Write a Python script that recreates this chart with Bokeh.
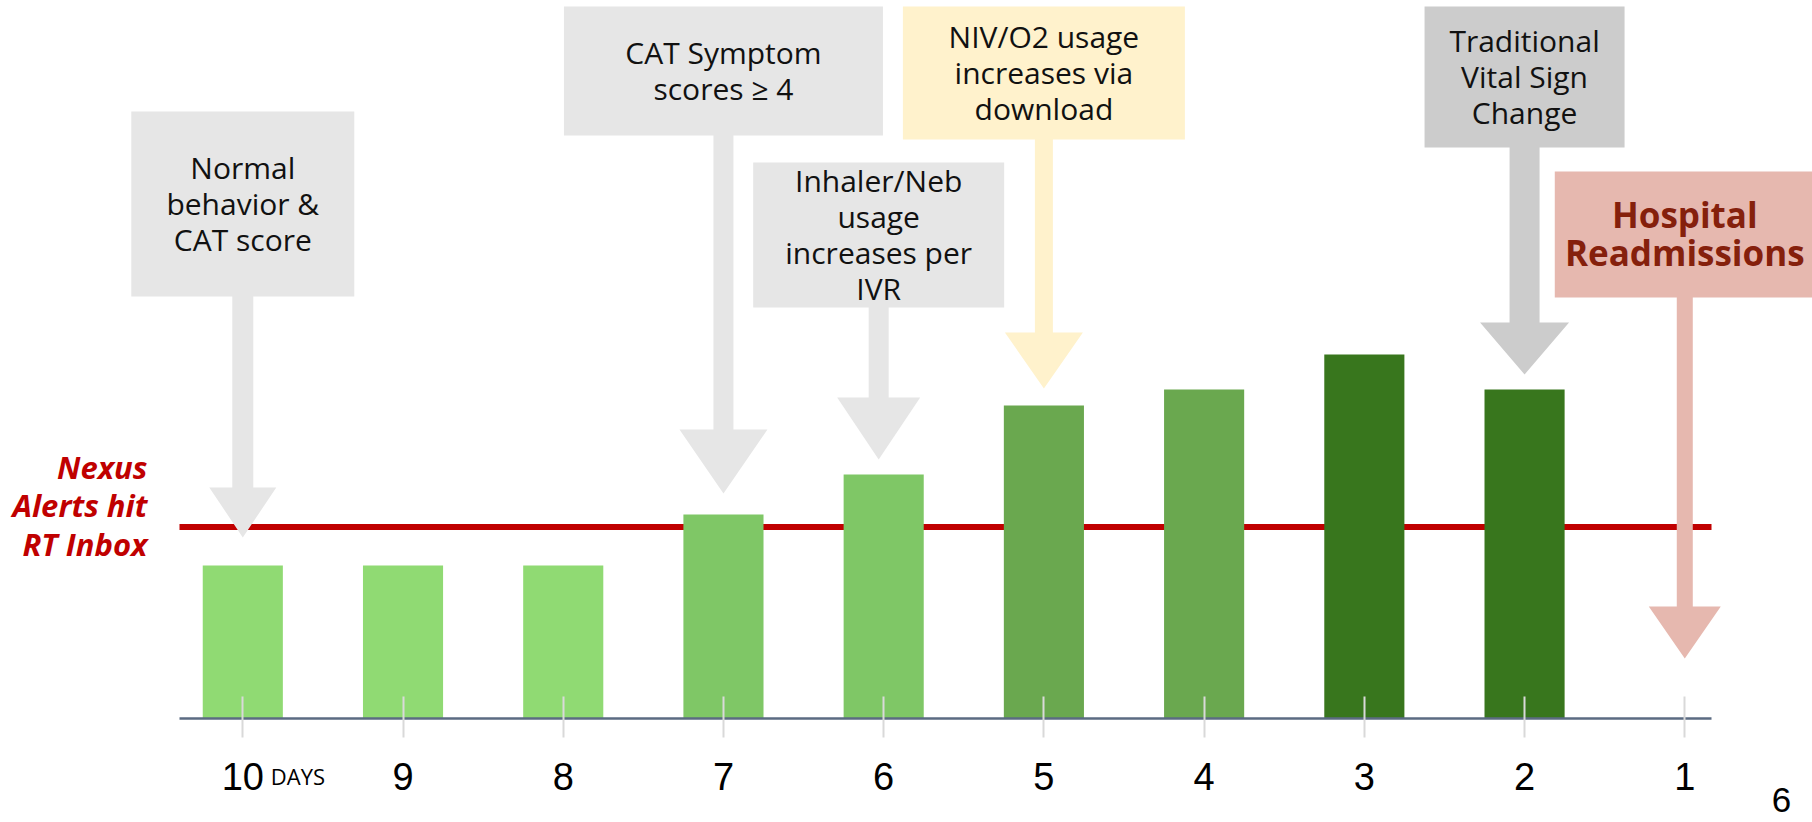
from bokeh.plotting import figure
from bokeh.models import Range1d, LinearAxis, FixedTicker
from bokeh.core.properties import value
from bokeh.embed import file_html
from bokeh.resources import INLINE

# ---------------- data ----------------
days = [10, 9, 8, 7, 6, 5, 4, 3, 2, 1]
tick_labels = ["10", "9", "8", "7", "6", "5", "4", "3", "2", "1"]
bar_days = [10, 9, 8, 7, 6, 5, 4, 3, 2]
bar_values = [3.06, 3.06, 3.06, 4.08, 4.88, 6.26, 6.58, 7.28, 6.58]
alert_threshold = 3.83
callout_days = [10, 7, 6, 5, 2, 1]
callout_texts = [
    ["Normal", "behavior &", "CAT score"],
    ["CAT Symptom", "scores \u2265 4"],
    ["Inhaler/Neb", "usage", "increases per", "IVR"],
    ["NIV/O2 usage", "increases via", "download"],
    ["Traditional", "Vital Sign", "Change"],
    ["Hospital", "Readmissions"],
]
threshold_label = ["Nexus", "Alerts hit", "RT Inbox"]
days_word = "DAYS"
page_number = "6"

# ---------------- styles / layout ----------------
W, H = 1812, 822
X10, PXD = 242.3, 160.22      # pixel of day 10, pixels per day
Y0, PXV = 718.0, 50.0         # pixel of value 0, pixels per unit
TSHIFT = -12                  # text baseline correction (px)


def dx(px):
    return 10 - (px - X10) / PXD


def vy(py):
    return (Y0 - py) / PXV


def px_of(day):
    return X10 + PXD * (10 - day)


bar_colors = ["#90da73", "#90da73", "#90da73", "#7fc766", "#7fc766",
              "#6aa84f", "#6aa84f", "#38761d", "#38761d"]

# width, top, bottom, fill, shaft w, head w, head base, tip, x offset
callout_style = [
    (223, 111, 296, "#e6e6e6", 21, 67, 487, 537, 0),
    (319, 6, 135, "#e6e6e6", 20, 88, 429, 493, 0),
    (251, 162, 307, "#e6e6e6", 20, 83, 397, 459, -5),
    (282, 6, 139, "#fff2cc", 18, 78, 332, 388, 0),
    (200, 6, 147, "#cccccc", 30, 89, 322, 374, 0),
    (260, 171, 297, "#e6b8af", 16, 72, 606, 658, 0),
]

p = figure(width=W, height=H, title=None, output_backend="svg",
           toolbar_location=None, x_axis_location=None, y_axis_location=None,
           x_range=Range1d(dx(0), dx(W)), y_range=Range1d(vy(H), vy(0)),
           min_border=0, min_border_left=0, min_border_right=0,
           min_border_top=0, min_border_bottom=0)
p.outline_line_color = None
p.background_fill_color = "white"
p.border_fill_color = "white"
p.xgrid.visible = False
p.ygrid.visible = False

axis_bounds = (dx(1711), dx(179))

# threshold line
p.segment(x0=[axis_bounds[1]], x1=[axis_bounds[0]], y0=[alert_threshold],
          y1=[alert_threshold], line_color="#c00000", line_width=6)

# bars
p.vbar(x=bar_days, top=bar_values, bottom=0, width=0.5,
       fill_color=bar_colors, line_color=None)

# callout boxes and arrows
box_l, box_r, box_t, box_b, box_c = [], [], [], [], []
arr_xs, arr_ys, arr_c = [], [], []
for day, st in zip(callout_days, callout_style):
    w, top, bot, fill, sw, hw, hb, tip, off = st
    cx = px_of(day) + off
    box_l.append(dx(cx - w / 2)); box_r.append(dx(cx + w / 2))
    box_t.append(vy(top)); box_b.append(vy(bot)); box_c.append(fill)
    pts = [(cx - sw / 2, bot - 1), (cx + sw / 2, bot - 1), (cx + sw / 2, hb),
           (cx + hw / 2, hb), (cx, tip), (cx - hw / 2, hb), (cx - sw / 2, hb)]
    arr_xs.append([dx(a) for a, b in pts]); arr_ys.append([vy(b) for a, b in pts])
    arr_c.append(fill)

p.patches(xs=arr_xs, ys=arr_ys, fill_color=arr_c, line_color=None)
p.quad(left=box_l, right=box_r, top=box_t, bottom=box_b, fill_color=box_c, line_color=None)

# callout texts
tx, ty, tt = [], [], []
hx, hy, ht = [], [], []
for i, (day, st, lines) in enumerate(zip(callout_days, callout_style, callout_texts)):
    w, top, bot, fill, sw, hw, hb, tip, off = st
    cx = px_of(day) + off
    cy = (top + bot) / 2
    n = len(lines)
    bold = (i == len(callout_days) - 1)
    step = 38 if bold else 36
    for j, line in enumerate(lines):
        base = cy + 11 + (j - (n - 1) / 2) * step + TSHIFT
        if bold:
            hx.append(dx(cx)); hy.append(vy(base)); ht.append(line)
        else:
            tx.append(dx(cx)); ty.append(vy(base)); tt.append(line)

p.text(x=tx, y=ty, text=tt, text_font=value("Open Sans"), text_font_size=value("30px"),
       text_color="#111111", text_align="center", text_baseline="alphabetic")
p.text(x=hx, y=hy, text=ht, text_font=value("Open Sans"), text_font_size=value("35px"),
       text_font_style="bold", text_color="#85200c", text_align="center",
       text_baseline="alphabetic")

# threshold label
p.text(x=[dx(147)] * 3, y=[vy(478 + TSHIFT), vy(516.7 + TSHIFT), vy(555 + TSHIFT)],
       text=threshold_label,
       text_font=value("Open Sans"), text_font_size=value("31px"),
       text_font_style="bold italic", text_color="#c00000", text_align="right",
       text_baseline="alphabetic")

# x axis at value 0
xaxis = LinearAxis(fixed_location=0, bounds=axis_bounds,
                   ticker=FixedTicker(ticks=days))
xaxis.major_label_overrides = {d: lab for d, lab in zip(days, tick_labels)}
xaxis.major_label_text_font = "Liberation Sans"
xaxis.major_label_text_font_size = "38px"
xaxis.major_label_text_color = "#000000"
xaxis.major_label_standoff = 25
xaxis.axis_line_color = "#5b6b82"
xaxis.axis_line_width = 2.5
xaxis.major_tick_line_color = "#d9d9d9"
xaxis.major_tick_line_width = 2
xaxis.major_tick_in = 22
xaxis.major_tick_out = 19
xaxis.minor_tick_line_color = None
p.add_layout(xaxis, "below")

# "DAYS" word and page number
p.text(x=[days[0]], y=[vy(787 + TSHIFT)], text=[days_word], x_offset=28,
       text_font=value("Open Sans"), text_font_size=value("22px"),
       text_color="#000000", text_align="left", text_baseline="alphabetic")
p.text(x=[dx(1781)], y=[vy(811 + TSHIFT)], text=[page_number],
       text_font=value("Liberation Sans"), text_font_size=value("35px"),
       text_color="#000000", text_align="center", text_baseline="alphabetic")

open("out.html", "w").write(file_html(p, INLINE))
